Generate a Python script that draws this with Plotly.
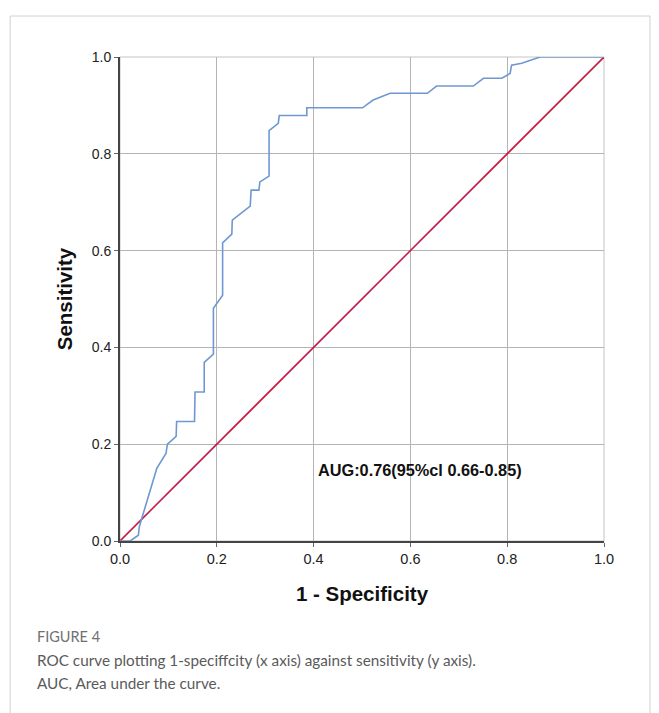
import plotly.graph_objects as go

# ROC curve points
fpr = [0.0, 0.021, 0.038, 0.040, 0.076, 0.095, 0.098, 0.116, 0.117, 0.154, 0.155, 0.174,
       0.174, 0.193, 0.193, 0.212, 0.212, 0.231, 0.232, 0.269, 0.271, 0.287, 0.289, 0.308,
       0.308, 0.327, 0.329, 0.386, 0.386, 0.501, 0.523, 0.558, 0.635, 0.654, 0.730, 0.751,
       0.789, 0.806, 0.809, 0.830, 0.868, 1.0]
tpr = [0.0, 0.0, 0.012, 0.030, 0.150, 0.181, 0.200, 0.216, 0.247, 0.247, 0.308, 0.308,
       0.369, 0.386, 0.481, 0.508, 0.616, 0.634, 0.663, 0.692, 0.725, 0.725, 0.742, 0.754,
       0.848, 0.863, 0.879, 0.879, 0.895, 0.895, 0.911, 0.925, 0.925, 0.940, 0.940, 0.956,
       0.956, 0.966, 0.983, 0.987, 1.0, 1.0]
ref_x = [0.0, 1.0]
ref_y = [0.0, 1.0]
tick_vals = [0.0, 0.2, 0.4, 0.6, 0.8, 1.0]
tick_text = ["0.0", "0.2", "0.4", "0.6", "0.8", "1.0"]
auc_label = "AUG:0.76(95%cl 0.66-0.85)"

fig = go.Figure()
fig.add_trace(go.Scatter(x=ref_x, y=ref_y, mode="lines",
                         line=dict(color="#c71a45", width=1.6), showlegend=False, hoverinfo="skip"))
fig.add_trace(go.Scatter(x=fpr, y=tpr, mode="lines",
                         line=dict(color="#6f98d2", width=1.6), showlegend=False))

axis_common = dict(range=[0, 1], tickvals=tick_vals, ticktext=tick_text,
                   showgrid=True, gridcolor="#b4b4b4", gridwidth=1,
                   showline=True, linecolor="#444444", linewidth=1.8,
                   ticks="outside", ticklen=4, tickcolor="#666666",
                   zeroline=False)

fig.update_xaxes(**axis_common,
                 tickfont=dict(family="Liberation Sans, Arial", size=14.5, color="#222222"),
                 title=dict(text="<b>1 - Specificity</b>", standoff=20,
                            font=dict(family="Liberation Sans, Arial", size=20.5, color="#111111")))
fig.update_yaxes(**axis_common,
                 tickfont=dict(family="Liberation Sans, Arial", size=14, color="#222222"),
                 title=dict(text="<b>Sensitivity</b>", standoff=14,
                            font=dict(family="Liberation Sans, Arial", size=20.5, color="#111111")))

shapes = [
    # plot frame (top/right light lines)
    dict(type="rect", xref="paper", yref="paper", x0=0, y0=0, x1=1, y1=1,
         line=dict(color="#c4c4c4", width=1), layer="below"),
    # outer figure border
    dict(type="rect", xref="paper", yref="paper", x0=-0.227, y0=-0.40, x1=1.095, y1=1.0847,
         line=dict(color="#d0d0d0", width=1), layer="below"),
]

annotations = [
    dict(x=0.405, y=0.146, xref="x", yref="y", text="<b>" + auc_label + "</b>",
         showarrow=False, xanchor="left", yanchor="middle",
         font=dict(family="Liberation Sans, Arial", size=16.3, color="#111111")),
    dict(x=-0.1756, y=-0.198, xref="paper", yref="paper", text="FIGURE 4",
         showarrow=False, xanchor="left", yanchor="middle",
         font=dict(family="Lato", size=14.5, color="#707070")),
    dict(x=-0.1756, y=-0.246, xref="paper", yref="paper",
         text="ROC curve plotting 1-speciffcity (x axis) against sensitivity (y axis).",
         showarrow=False, xanchor="left", yanchor="middle",
         font=dict(family="Lato", size=15.3, color="#5a5a5a")),
    dict(x=-0.1756, y=-0.293, xref="paper", yref="paper",
         text="AUC, Area under the curve.",
         showarrow=False, xanchor="left", yanchor="middle",
         font=dict(family="Lato", size=15.3, color="#5a5a5a")),
]

fig.update_layout(width=659, height=713,
                  margin=dict(l=112, r=63, t=49, b=180),
                  paper_bgcolor="white", plot_bgcolor="white",
                  shapes=shapes, annotations=annotations, showlegend=False)

fig.write_html("out.html")
